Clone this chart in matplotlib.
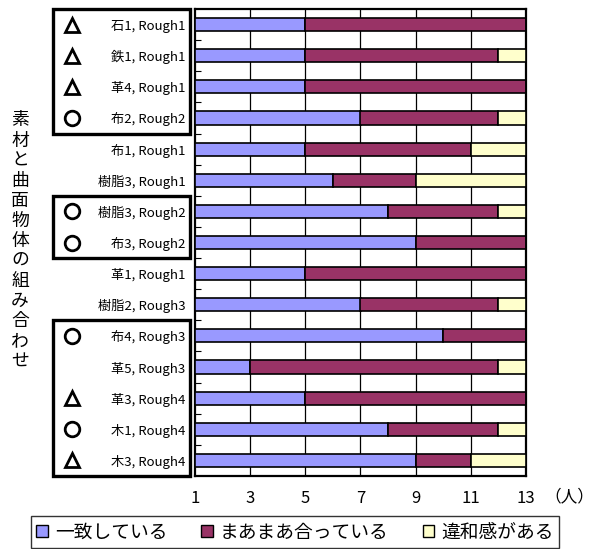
import matplotlib
matplotlib.use("Agg")
import matplotlib.pyplot as plt
import matplotlib.transforms as mtransforms
from matplotlib.patches import Rectangle, Patch
import numpy as np

plt.rcParams['font.family'] = ['Noto Sans CJK JP', 'DejaVu Sans']

# 素材と曲面物体の組み合わせ（上から順に）
labels = ["石1, Rough1", "鉄1, Rough1", "革4, Rough1", "布2, Rough2",
          "布1, Rough1", "樹脂3, Rough1", "樹脂3, Rough2", "布3, Rough2",
          "革1, Rough1", "樹脂2, Rough3", "布4, Rough3", "革5, Rough3",
          "革3, Rough4", "木1, Rough4", "木3, Rough4"]
marks = ["△", "△", "△", "○", "", "", "○", "○", "", "", "○", "", "△", "○", "△"]

# 回答人数
match = [4, 4, 4, 6, 4, 5, 7, 8, 4, 6, 9, 2, 4, 7, 8]   # 一致している
fair = [8, 7, 8, 5, 6, 3, 4, 4, 8, 5, 3, 9, 8, 4, 2]    # まあまあ合っている
odd = [0, 1, 0, 1, 2, 4, 1, 0, 0, 1, 0, 1, 0, 1, 2]     # 違和感がある

series_names = ["一致している", "まあまあ合っている", "違和感がある"]
colors = ["#9999FF", "#993366", "#FFFFCC"]

xticks = [1, 3, 5, 7, 9, 11, 13]
boxes = [(0, 3), (6, 7), (10, 14)]   # 枠で囲む行

fig = plt.figure(figsize=(5.99, 5.49), dpi=100)
ax = fig.add_axes([195/599, 1-476/549, (526-195)/599, (476-9)/549])

y = np.arange(len(labels))
match = np.array(match)
fair = np.array(fair)
odd = np.array(odd)
base = 1

ax.barh(y, match, left=base, height=0.42, color=colors[0], edgecolor='black', linewidth=1.2, zorder=3)
ax.barh(y, fair, left=base + match, height=0.42, color=colors[1], edgecolor='black', linewidth=1.2, zorder=3)
ax.barh(y, odd, left=base + match + fair, height=0.42, color=colors[2], edgecolor='black', linewidth=1.2, zorder=3)

ax.set_xlim(1, 13)
ax.set_ylim(len(labels) - 0.5, -0.5)
ax.set_xticks(xticks)
ax.set_xticklabels([str(v) for v in xticks], fontsize=12)
ax.tick_params(axis='x', length=0, pad=10)
for v in xticks[1:-1]:
    ax.axvline(v, color='black', linewidth=0.9, zorder=1)

ax.set_yticks(y)
ax.set_yticklabels(labels, fontsize=9.5)
ax.tick_params(axis='y', which='major', length=0, pad=7)
ax.set_yticks(np.arange(0.5, len(labels) - 1, 1), minor=True)
ax.tick_params(axis='y', which='minor', direction='in', length=4, width=0.8)

for s in ax.spines.values():
    s.set_linewidth(1.6)

# 左側の枠と記号
trans = mtransforms.blended_transform_factory(fig.transFigure, ax.transData)
for a, b in boxes:
    r = Rectangle((53/599, a - 0.5), (190-53)/599, b - a + 1, transform=trans,
                  fill=False, edgecolor='black', linewidth=2.4, clip_on=False)
    fig.add_artist(r)

for i, m in enumerate(marks):
    if m == "△":
        ax.plot([72/599], [i], marker='^', markersize=10.5, markerfacecolor='none',
                markeredgecolor='black', markeredgewidth=2, transform=trans, clip_on=False)
    elif m == "○":
        ax.plot([72/599], [i], marker='o', markersize=10.5, markerfacecolor='none',
                markeredgecolor='black', markeredgewidth=2, transform=trans, clip_on=False)

fig.text(20/599, 1-241/549, "\n".join("素材と曲面物体の組み合わせ"),
         ha='center', va='center', fontsize=12.8, linespacing=1.15)
fig.text(569/599, 1-497/549, "（人）", ha='center', va='center', fontsize=12)

handles = [Patch(facecolor=c, edgecolor='black', linewidth=1) for c in colors]
leg = fig.legend(handles, series_names, loc='upper center', ncol=3,
                 bbox_to_anchor=(295/599, 1-516/549), fontsize=13.5,
                 frameon=True, fancybox=False, edgecolor='black',
                 handlelength=0.6, handleheight=0.6, handletextpad=0.4,
                 columnspacing=1.8, borderpad=0.3, borderaxespad=0)
leg.get_frame().set_linewidth(1)

fig.savefig("out.png", dpi=100)
